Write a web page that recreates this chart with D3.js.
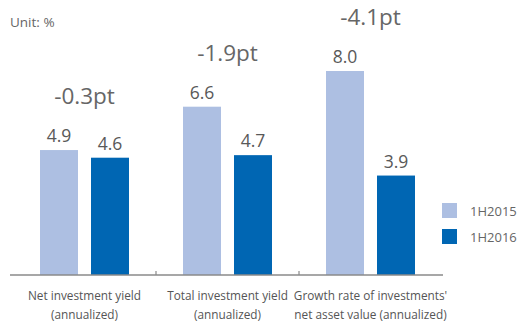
<!DOCTYPE html>
<html>
<head>
<meta charset="utf-8">
<script src="https://cdn.jsdelivr.net/npm/d3@7"></script>
<style>
  body { margin: 0; background: #fff; }
  svg { font-family: "Open Sans", sans-serif; }
</style>
</head>
<body>
<svg class="chart"></svg>
<script>
let width = 523, height = 322;

// data
let categories = ["net", "total", "growth"];
let catLines = [
  ["Net investment yield", "(annualized)"],
  ["Total investment yield", "(annualized)"],
  ["Growth rate of investments'", "net asset value (annualized)"]
];
let series = ["1H2015", "1H2016"];
let values2015 = [4.9, 6.6, 8.0];
let values2016 = [4.6, 4.7, 3.9];
let deltas = ["-0.3pt", "-1.9pt", "-4.1pt"];

let colors = ["#adbfe2", "#0066b3"];
let baseY = 275;

let svg = d3.select(".chart")
  .attr("width", width)
  .attr("height", height);

// scales
let x0 = d3.scaleBand()
  .domain(categories)
  .range([13, 442])
  .paddingInner(0)
  .paddingOuter(0);

let x1 = d3.scaleBand()
  .domain(series)
  .range([0, 89])
  .paddingInner(0.255)
  .paddingOuter(0);

let y = d3.scaleLinear()
  .domain([0, 8])
  .range([baseY, baseY - 204]);

let groupOffset = (x0.bandwidth() - 89) / 2;

// unit label
svg.append("text")
  .attr("x", 10)
  .attr("y", 27)
  .style("font-size", "13.5px")
  .style("fill", "#666")
  .text("Unit: %");

// bars
let rows = categories.map((c, i) => ({
  cat: c,
  vals: [values2015[i], values2016[i]],
  delta: deltas[i],
  lines: catLines[i]
}));

let groups = svg.selectAll("g.group")
  .data(rows)
  .enter().append("g")
  .attr("class", "group")
  .attr("transform", d => "translate(" + (x0(d.cat) + groupOffset) + ",0)");

groups.selectAll("rect")
  .data(d => d.vals.map((v, j) => ({ s: series[j], v: v, j: j })))
  .enter().append("rect")
  .attr("x", d => x1(d.s))
  .attr("y", d => y(d.v))
  .attr("width", x1.bandwidth())
  .attr("height", d => baseY - y(d.v))
  .style("fill", d => colors[d.j]);

// value labels
groups.selectAll("text.val")
  .data(d => d.vals.map((v, j) => ({ s: series[j], v: v })))
  .enter().append("text")
  .attr("class", "val")
  .attr("x", d => x1(d.s) + x1.bandwidth() / 2)
  .attr("y", d => y(d.v) - 8)
  .attr("text-anchor", "middle")
  .style("font-size", "17.5px")
  .style("fill", "#595959")
  .text(d => d3.format(".1f")(d.v));

// delta labels
groups.append("text")
  .attr("x", 89 / 2)
  .attr("y", d => y(d3.max(d.vals)) - 8 - 38)
  .attr("text-anchor", "middle")
  .style("font-size", "22.5px")
  .style("fill", "#666")
  .text(d => d.delta);

// axis line with small ticks between groups
svg.append("line")
  .attr("x1", 10).attr("x2", 443)
  .attr("y1", baseY).attr("y2", baseY)
  .style("stroke", "#8a8a8a")
  .style("stroke-width", 1.5);

svg.selectAll("line.tick")
  .data(categories.slice(1))
  .enter().append("line")
  .attr("class", "tick")
  .attr("x1", d => x0(d)).attr("x2", d => x0(d))
  .attr("y1", baseY).attr("y2", baseY - 4)
  .style("stroke", "#8a8a8a")
  .style("stroke-width", 1.2);

// category labels
groups.selectAll("text.cat")
  .data(d => d.lines)
  .enter().append("text")
  .attr("class", "cat")
  .attr("x", 89 / 2)
  .attr("y", (d, i) => 300 + i * 19)
  .attr("text-anchor", "middle")
  .style("font-size", "11.8px")
  .style("fill", "#555")
  .text(d => d);

// legend
let legend = svg.selectAll("g.legend")
  .data(series)
  .enter().append("g")
  .attr("class", "legend")
  .attr("transform", (d, i) => "translate(442," + (203 + i * 26) + ")");

legend.append("rect")
  .attr("width", 15)
  .attr("height", 15)
  .style("fill", (d, i) => colors[i]);

legend.append("text")
  .attr("x", 28)
  .attr("y", 13)
  .style("font-size", "13px")
  .style("fill", "#666")
  .text(d => d);
</script>
</body>
</html>
